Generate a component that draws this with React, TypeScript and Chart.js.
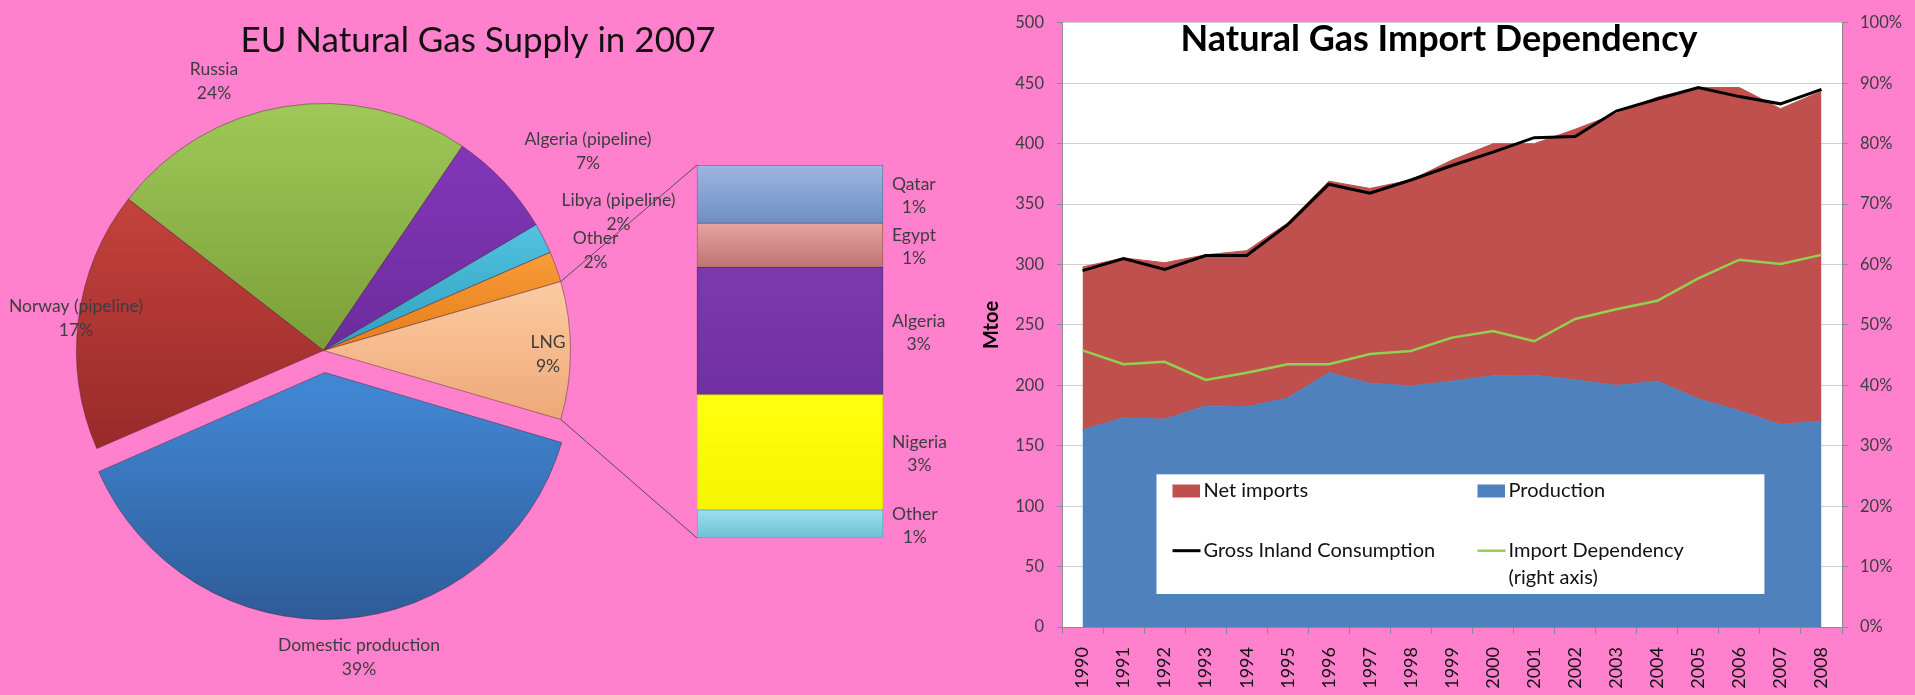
import React, { useEffect, useRef } from 'react';
import { Chart, registerables } from 'chart.js';

Chart.register(...registerables);

// ---------------- DATA ----------------
const pieTitle = 'EU Natural Gas Supply in 2007';
const pieLabels = ['Russia', 'Algeria (pipeline)', 'Libya (pipeline)', 'Other', 'LNG', 'Domestic production', 'Norway (pipeline)'];
const pieValues = [24, 7, 2, 2, 9, 39, 17];

// LNG breakdown (bar of pie), bottom to top
const lngLabels = ['Other', 'Nigeria', 'Algeria', 'Egypt', 'Qatar'];
const lngValues = [0.68, 2.78, 3.07, 1.07, 1.4];

const areaTitle = 'Natural Gas Import Dependency';
const years = ['1990', '1991', '1992', '1993', '1994', '1995', '1996', '1997', '1998', '1999', '2000', '2001', '2002', '2003', '2004', '2005', '2006', '2007', '2008'];
const production = [163.2, 173.1, 172, 183, 182.3, 189.6, 210.5, 201.7, 199.5, 203.5, 207.9, 208.3, 204.6, 199.9, 203.5, 188.9, 179, 167.6, 170.5];
const netImports = [134.8, 132.4, 129.5, 125, 129.2, 144.9, 158.5, 161.3, 170.5, 183, 192.1, 191.7, 207.4, 225.1, 235, 257.6, 267.5, 261.4, 273];
const grossInland = [295, 305, 296, 307.5, 307.5, 333, 366.5, 359, 370, 382, 393, 405, 406, 427, 437, 446.5, 439, 433, 445];
const importDependency = [45.8, 43.5, 43.9, 40.9, 42.1, 43.5, 43.5, 45.2, 45.7, 47.9, 49.0, 47.3, 51.0, 52.6, 54.0, 57.7, 60.8, 60.1, 61.6];
const mtoeTicks = { min: 0, max: 500, step: 50 };
const pctTicks = { min: 0, max: 100, step: 10 };

// ---------------- STYLE ----------------
const PINK = '#FF80CC';
const FONT = 'Lato, "Open Sans", sans-serif';
const LABEL_GRAY = '#3d3d3d';
const AXIS_GRAY = '#8C8C8C';
const PIE_ROTATION = -52.2;
const PIE_RADIUS = 247;
const EXPLODE = 22; // pixels the exploded slice is pulled out
const sliceColors = [
  ['#9FC858', '#7A9F38'],
  ['#8236B8', '#6C2C9C'],
  ['#52C2E0', '#2F9FBF'],
  ['#FA9C38', '#E37D18'],
  ['#FCCBA2', '#EEA877'],
  ['#4186D2', '#2B5792'],
  ['#C4423C', '#982A2A'],
];
const pieLabelPos = [[-109.5, -269.5], [264.5, -199], [295, -138], [272, -100.5], [224.5, 4], [35.5, 307], [-247.5, -32]];
const segColors = [
  ['#9BE0EE', '#6FC0D6'],
  ['#FFFF10', '#F5F500'],
  ['#7E38AE', '#7030A0'],
  ['#E6A3A1', '#BE7472'],
  ['#9DB6E0', '#6E8FC4'],
];
const segBorders = ['#5FA9BC', '#D8D800', '#5E2789', '#A45E5C', '#5D7DB2'];

const pieTotal = pieValues.reduce((a, b) => a + b, 0);
const lngTotal = lngValues.reduce((a, b) => a + b, 0);
const explodeIndex = pieLabels.indexOf('Domestic production');
const lngIndex = pieLabels.indexOf('LNG');

const fin = (...v: number[]) => v.every((x) => typeof x === 'number' && Number.isFinite(x));

function sliceFill(c: any) {
  const i = c.dataIndex;
  if (i === undefined || i === null) return sliceColors[0][0];
  try {
    const chart = c.chart;
    const ca = chart.chartArea;
    if (!ca || !fin(ca.left, ca.right, ca.top, ca.bottom)) return sliceColors[i][0];
    const cy = (ca.top + ca.bottom) / 2;
    let a0 = (PIE_ROTATION * Math.PI) / 180 - Math.PI / 2;
    for (let k = 0; k < i; k++) a0 += (pieValues[k] / pieTotal) * 2 * Math.PI;
    const a1 = a0 + (pieValues[i] / pieTotal) * 2 * Math.PI;
    const mid = (a0 + a1) / 2;
    const off = i === explodeIndex ? EXPLODE : 0;
    const oy = cy + Math.sin(mid) * off;
    let minY = oy;
    let maxY = oy;
    for (let s = 0; s <= 30; s++) {
      const a = a0 + ((a1 - a0) * s) / 30;
      const y = oy + PIE_RADIUS * Math.sin(a);
      minY = Math.min(minY, y);
      maxY = Math.max(maxY, y);
    }
    if (!fin(minY, maxY)) return sliceColors[i][0];
    const g = chart.ctx.createLinearGradient(0, minY, 0, maxY + 1);
    g.addColorStop(0, sliceColors[i][0]);
    g.addColorStop(1, sliceColors[i][1]);
    return g;
  } catch (e) {
    return sliceColors[i][0];
  }
}

function segFill(c: any, i: number) {
  try {
    const chart = c.chart;
    const y = chart.scales && chart.scales.y;
    if (!y || c.dataIndex === undefined) return segColors[i][0];
    let base = 0;
    for (let k = 0; k < i; k++) base += lngValues[k];
    const top = y.getPixelForValue(base + lngValues[i]);
    const bottom = y.getPixelForValue(base);
    if (!fin(top, bottom)) return segColors[i][0];
    const g = chart.ctx.createLinearGradient(0, top, 0, bottom);
    g.addColorStop(0, segColors[i][0]);
    g.addColorStop(1, segColors[i][1]);
    return g;
  } catch (e) {
    return segColors[i][0];
  }
}

export default function App() {
  const pieRef = useRef<HTMLCanvasElement>(null);
  const barRef = useRef<HTMLCanvasElement>(null);
  const areaRef = useRef<HTMLCanvasElement>(null);

  useEffect(() => {
    Chart.defaults.font.family = FONT;

    const pieDecor = {
      id: 'pieDecor',
      beforeDatasetsDraw(chart: any) {
        // Chart.js moves an offset arc by offset/4 and grows it slightly; keep the radius equal to the others
        const meta = chart.getDatasetMeta(0);
        meta.data.forEach((arc: any) => {
          const off = (arc.options && arc.options.offset) || 0;
          if (off > 0) {
            const fix = 1 - Math.sin(Math.min(Math.PI, arc.circumference || 0));
            arc.outerRadius = PIE_RADIUS - (off / 4) * fix;
          }
        });
      },
      afterDatasetsDraw(chart: any) {
        const ctx = chart.ctx;
        const meta = chart.getDatasetMeta(0);
        ctx.save();
        ctx.fillStyle = LABEL_GRAY;
        ctx.font = `17.5px ${FONT}`;
        ctx.textAlign = 'center';
        ctx.textBaseline = 'middle';
        meta.data.forEach((arc: any, i: number) => {
          const [dx, dy] = pieLabelPos[i];
          const pct = Math.round((pieValues[i] / pieTotal) * 100) + '%';
          ctx.fillText(pieLabels[i], arc.x + dx, arc.y + dy - 12);
          ctx.fillText(pct, arc.x + dx, arc.y + dy + 12);
        });
        ctx.fillStyle = '#111';
        ctx.font = `35px ${FONT}`;
        ctx.textBaseline = 'alphabetic';
        ctx.fillText(pieTitle, 478, 52);
        ctx.restore();
      },
    };

    const pie = new Chart(pieRef.current as HTMLCanvasElement, {
      type: 'pie',
      data: {
        labels: pieLabels,
        datasets: [
          {
            data: pieValues,
            backgroundColor: sliceFill as any,
            borderColor: 'rgba(70,30,50,0.45)',
            borderWidth: 1,
            offset: pieValues.map((_, i) => (i === explodeIndex ? EXPLODE * 4 : 0)),
          } as any,
        ],
      },
      options: {
        responsive: false,
        animation: false,
        events: [],
        rotation: PIE_ROTATION,
        radius: PIE_RADIUS,
        layout: { padding: { left: 0, right: 313, top: 6, bottom: 0 } },
        plugins: { legend: { display: false }, tooltip: { enabled: false }, title: { display: false } },
      } as any,
      plugins: [pieDecor],
    });

    const barDecor = {
      id: 'barDecor',
      afterDatasetsDraw(chart: any) {
        const ctx = chart.ctx;
        const topEl = chart.getDatasetMeta(lngValues.length - 1).data[0];
        const botEl = chart.getDatasetMeta(0).data[0];
        if (!topEl || !botEl) return;
        const tp = topEl.getProps(['x', 'y', 'width'], true);
        const bp = botEl.getProps(['x', 'base', 'width'], true);
        const barLeft = tp.x - tp.width / 2;
        const barRight = tp.x + tp.width / 2;
        ctx.save();
        const arc = pie.getDatasetMeta(0).data[lngIndex] as any;
        if (arc) {
          const ap = arc.getProps(['x', 'y', 'startAngle', 'endAngle'], true);
          const r = PIE_RADIUS;
          ctx.strokeStyle = '#5a4a55';
          ctx.lineWidth = 1;
          ctx.beginPath();
          ctx.moveTo(ap.x + r * Math.cos(ap.startAngle), ap.y + r * Math.sin(ap.startAngle));
          ctx.lineTo(barLeft, tp.y);
          ctx.moveTo(ap.x + r * Math.cos(ap.endAngle), ap.y + r * Math.sin(ap.endAngle));
          ctx.lineTo(barLeft, bp.base);
          ctx.stroke();
        }
        ctx.fillStyle = LABEL_GRAY;
        ctx.font = `17.5px ${FONT}`;
        ctx.textAlign = 'center';
        ctx.textBaseline = 'middle';
        lngLabels.forEach((name, i) => {
          const el = chart.getDatasetMeta(i).data[0];
          const p = el.getProps(['y', 'base'], true);
          const mid = (p.y + p.base) / 2 + 1.5;
          const pct = Math.round(lngValues[i]) + '%';
          const w = Math.max(ctx.measureText(name).width, ctx.measureText(pct).width);
          const cx = barRight + 9 + w / 2;
          ctx.fillText(name, cx, mid - 11.5);
          ctx.fillText(pct, cx, mid + 11.5);
        });
        ctx.restore();
      },
    };

    const bar = new Chart(barRef.current as HTMLCanvasElement, {
      type: 'bar',
      data: {
        labels: ['LNG'],
        datasets: lngLabels.map((name, i) => ({
          label: name,
          data: [lngValues[i]],
          backgroundColor: ((c: any) => segFill(c, i)) as any,
          borderColor: segBorders[i],
          borderWidth: 1,
          borderSkipped: false,
          barPercentage: 1,
          categoryPercentage: 1,
          clip: false,
        })) as any,
      },
      options: {
        responsive: false,
        animation: false,
        events: [],
        layout: { padding: { left: 697, right: 77, top: 165, bottom: 157 } },
        scales: {
          x: { display: false, stacked: true },
          y: { display: false, stacked: true, min: 0, max: lngTotal },
        },
        plugins: { legend: { display: false }, tooltip: { enabled: false } },
      } as any,
      plugins: [barDecor],
    });

    const areaDecor = {
      id: 'areaDecor',
      beforeDraw(chart: any) {
        const { ctx, chartArea: ca } = chart;
        ctx.save();
        ctx.fillStyle = '#ffffff';
        ctx.fillRect(ca.left, ca.top, ca.right - ca.left, ca.bottom - ca.top);
        ctx.restore();
      },
      afterDatasetsDraw(chart: any) {
        const { ctx, chartArea: ca } = chart;
        const ds = chart.data.datasets;
        ctx.save();
        ctx.fillStyle = '#000';
        ctx.font = `bold 36px ${FONT}`;
        ctx.textAlign = 'center';
        ctx.textBaseline = 'alphabetic';
        ctx.fillText(areaTitle, ca.left + 377, 51);
        const x0 = ca.left + 94.5;
        const x1 = ca.right - 77.6;
        const y0 = ca.bottom - 152.7;
        const y1 = ca.bottom - 33;
        ctx.fillStyle = '#ffffff';
        ctx.fillRect(x0, y0, x1 - x0, y1 - y0);
        const items = [
          { ds: 1, col: 0, row: 0, kind: 'box' },
          { ds: 0, col: 1, row: 0, kind: 'box' },
          { ds: 2, col: 0, row: 1, kind: 'line' },
          { ds: 3, col: 1, row: 1, kind: 'line' },
        ];
        const colX = [16, 321];
        const rowY = [16.7, 76.4];
        ctx.font = `20px ${FONT}`;
        ctx.textAlign = 'left';
        ctx.textBaseline = 'middle';
        items.forEach((it) => {
          const d = ds[it.ds];
          const mx = x0 + colX[it.col];
          const my = y0 + rowY[it.row];
          if (it.kind === 'box') {
            ctx.fillStyle = d.backgroundColor;
            ctx.fillRect(mx, my - 6.5, 27.5, 13);
          } else {
            ctx.strokeStyle = d.borderColor;
            ctx.lineWidth = d.borderWidth;
            ctx.beginPath();
            ctx.moveTo(mx, my);
            ctx.lineTo(mx + 28, my);
            ctx.stroke();
          }
          ctx.fillStyle = '#111';
          const label: string = d.label;
          const cut = label.indexOf(' (');
          const lines = cut > 0 ? [label.slice(0, cut), label.slice(cut + 1)] : [label];
          lines.forEach((ln, k) => ctx.fillText(ln, mx + 31, my + k * 26.6));
        });
        ctx.restore();
      },
    };

    const area = new Chart(areaRef.current as HTMLCanvasElement, {
      type: 'line',
      data: {
        labels: years,
        datasets: [
          { label: 'Production', data: production, backgroundColor: '#4F81BD', borderColor: '#4F81BD', borderWidth: 1, fill: 'origin', pointRadius: 0, tension: 0, order: 2, yAxisID: 'y' },
          { label: 'Net imports', data: netImports, backgroundColor: '#C0504D', borderColor: '#C0504D', borderWidth: 1, fill: '-1', pointRadius: 0, tension: 0, order: 3, yAxisID: 'y' },
          { label: 'Gross Inland Consumption', data: grossInland, borderColor: '#000000', backgroundColor: '#000000', borderWidth: 3, fill: false, pointRadius: 0, tension: 0, order: 1, yAxisID: 'y', stack: 'gic' },
          { label: 'Import Dependency (right axis)', data: importDependency, borderColor: '#92D050', backgroundColor: '#92D050', borderWidth: 2.5, fill: false, pointRadius: 0, tension: 0, order: 0, yAxisID: 'y1' },
        ] as any,
      },
      options: {
        responsive: false,
        animation: false,
        events: [],
        layout: { padding: { left: 0, right: 0, top: 22, bottom: 0 } },
        plugins: { legend: { display: false }, tooltip: { enabled: false }, title: { display: false } },
        scales: {
          x: {
            offset: true,
            grid: { offset: true, drawOnChartArea: false, drawTicks: true, tickLength: 7, tickColor: AXIS_GRAY },
            border: { display: true, color: AXIS_GRAY },
            ticks: { autoSkip: false, minRotation: 90, maxRotation: 90, padding: 13, color: '#111', font: { size: 18 } },
            afterFit: (s: any) => { s.height = 68; },
          },
          y: {
            stacked: true,
            min: mtoeTicks.min,
            max: mtoeTicks.max,
            ticks: { stepSize: mtoeTicks.step, padding: 13, color: LABEL_GRAY, font: { size: 16.5 } },
            grid: { color: '#D0D0D0', tickColor: AXIS_GRAY, tickLength: 5 },
            border: { display: true, color: AXIS_GRAY },
            title: { display: true, text: 'Mtoe', color: '#000', font: { size: 20, weight: 'bold' }, padding: { top: 20, bottom: 0 } },
            afterFit: (s: any) => { s.width = 102; },
          },
          y1: {
            position: 'right',
            min: pctTicks.min,
            max: pctTicks.max,
            ticks: { stepSize: pctTicks.step, padding: 12, color: LABEL_GRAY, font: { size: 16.5 }, callback: (v: any) => v + '%' },
            grid: { drawOnChartArea: false, tickLength: 6, tickColor: AXIS_GRAY },
            border: { display: true, color: AXIS_GRAY },
            afterFit: (s: any) => { s.width = 73; },
          },
        },
      } as any,
      plugins: [areaDecor],
    });

    return () => {
      bar.destroy();
      pie.destroy();
      area.destroy();
    };
  }, []);

  return (
    <div style={{ position: 'absolute', left: 0, top: 0, width: 1915, height: 695, background: PINK, overflow: 'hidden' }}>
      <canvas ref={pieRef} width={960} height={695} style={{ position: 'absolute', left: 0, top: 0, width: 960, height: 695 }} />
      <canvas ref={barRef} width={960} height={695} style={{ position: 'absolute', left: 0, top: 0, width: 960, height: 695 }} />
      <canvas ref={areaRef} width={955} height={695} style={{ position: 'absolute', left: 960, top: 0, width: 955, height: 695 }} />
    </div>
  );
}
